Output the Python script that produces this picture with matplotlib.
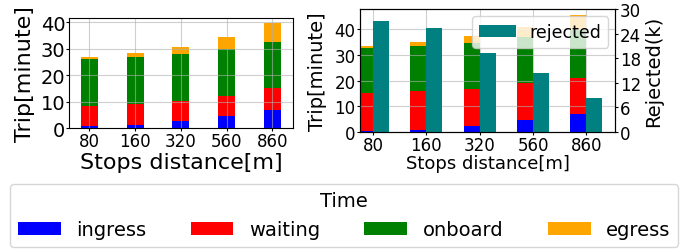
import numpy as np
import matplotlib
matplotlib.use("Agg")
import matplotlib.pyplot as plt

# Stop distances (m)
distances = ["80", "160", "320", "560", "860"]

# Left panel: trip time components (minutes)
left_ingress = [0.6, 1.3, 2.5, 4.5, 6.9]
left_waiting = [7.7, 7.8, 7.6, 7.6, 8.1]
left_onboard = [17.9, 17.9, 18.1, 17.8, 17.5]
left_egress = [0.7, 1.4, 2.5, 4.7, 7.2]

# Right panel: trip time components (minutes) and rejected requests (k)
right_ingress = [0.5, 1.0, 2.3, 4.6, 7.0]
right_waiting = [14.6, 14.9, 14.6, 14.3, 14.2]
right_onboard = [17.6, 17.6, 17.6, 18.0, 18.5]
right_egress = [0.7, 1.5, 2.8, 4.0, 5.8]
rejected = [27.1, 25.3, 19.4, 14.5, 8.2]

colors = {"ingress": "blue", "waiting": "red", "onboard": "green", "egress": "orange"}

fig = plt.figure(figsize=(6.89, 2.53), dpi=100)
ax1 = fig.add_axes([0.100, 0.490, 0.325, 0.435])
ax2 = fig.add_axes([0.522, 0.474, 0.371, 0.486])

x = np.arange(len(distances))


def stacked(ax, pos, parts, width, align):
    bottom = np.zeros(len(distances))
    handles = []
    for name, vals in parts:
        h = ax.bar(pos, vals, width, bottom=bottom, color=colors[name],
                   label=name, align=align)
        handles.append(h)
        bottom = bottom + np.array(vals)
    return handles


# Left chart (grid drawn over the bars, like matplotlib's default)
ax1.grid(True, color="#b0b0b0", alpha=0.6)
handles = stacked(ax1, x, [("ingress", left_ingress), ("waiting", left_waiting),
                          ("onboard", left_onboard), ("egress", left_egress)],
                  0.37, "center")
ax1.set_xlim(-0.45, 4.45)
ax1.set_yticks([0, 10, 20, 30, 40])
ax1.set_xticks(x)
ax1.set_xticklabels(distances, fontsize=12)
ax1.tick_params(axis="y", labelsize=14, length=2, pad=0.5)
ax1.tick_params(axis="x", length=2, pad=1)
ax1.set_ylabel("Trip[minute]", fontsize=16, labelpad=4)
ax1.set_xlabel("Stops distance[m]", fontsize=16, labelpad=1)

# Right chart
ax2.grid(True, color="#b0b0b0", alpha=0.6)
stacked(ax2, x, [("ingress", right_ingress), ("waiting", right_waiting),
                 ("onboard", right_onboard), ("egress", right_egress)],
        -0.3, "edge")
ax2.set_xlim(-0.25, 4.54)
ax2.set_yticks([0, 10, 20, 30, 40])
ax2.set_xticks(x)
ax2.set_xticklabels(distances, fontsize=12)
ax2.tick_params(axis="y", labelsize=12, length=2, pad=1)
ax2.tick_params(axis="x", length=2, pad=1)
ax2.set_ylabel("Trip[minute]", fontsize=14, labelpad=5)
ax2.set_xlabel("Stops distance[m]", fontsize=13, labelpad=0)

ax3 = ax2.twinx()
ax3.bar(x, rejected, 0.3, align="edge", color="teal", label="rejected")
ax3.set_ylim(0, 30)
ax3.set_yticks([0, 6, 12, 18, 24, 30])
ax3.tick_params(axis="y", labelsize=12, length=2.5, pad=1)
ax3.set_ylabel("Rejected(k)", fontsize=14, labelpad=2)
ax3.legend(loc="upper right", fontsize=12.5, handlelength=2.1,
           borderaxespad=0.4)

fig.legend(handles, ["ingress", "waiting", "onboard", "egress"], title="Time",
           loc="lower left", bbox_to_anchor=(0.0145, 0.02, 0.97, 0.257),
           ncol=4, fontsize=14, title_fontsize=14, handlelength=2.2,
           mode="expand", borderaxespad=0.0,
           bbox_transform=fig.transFigure)

fig.savefig("out.png", dpi=100)
